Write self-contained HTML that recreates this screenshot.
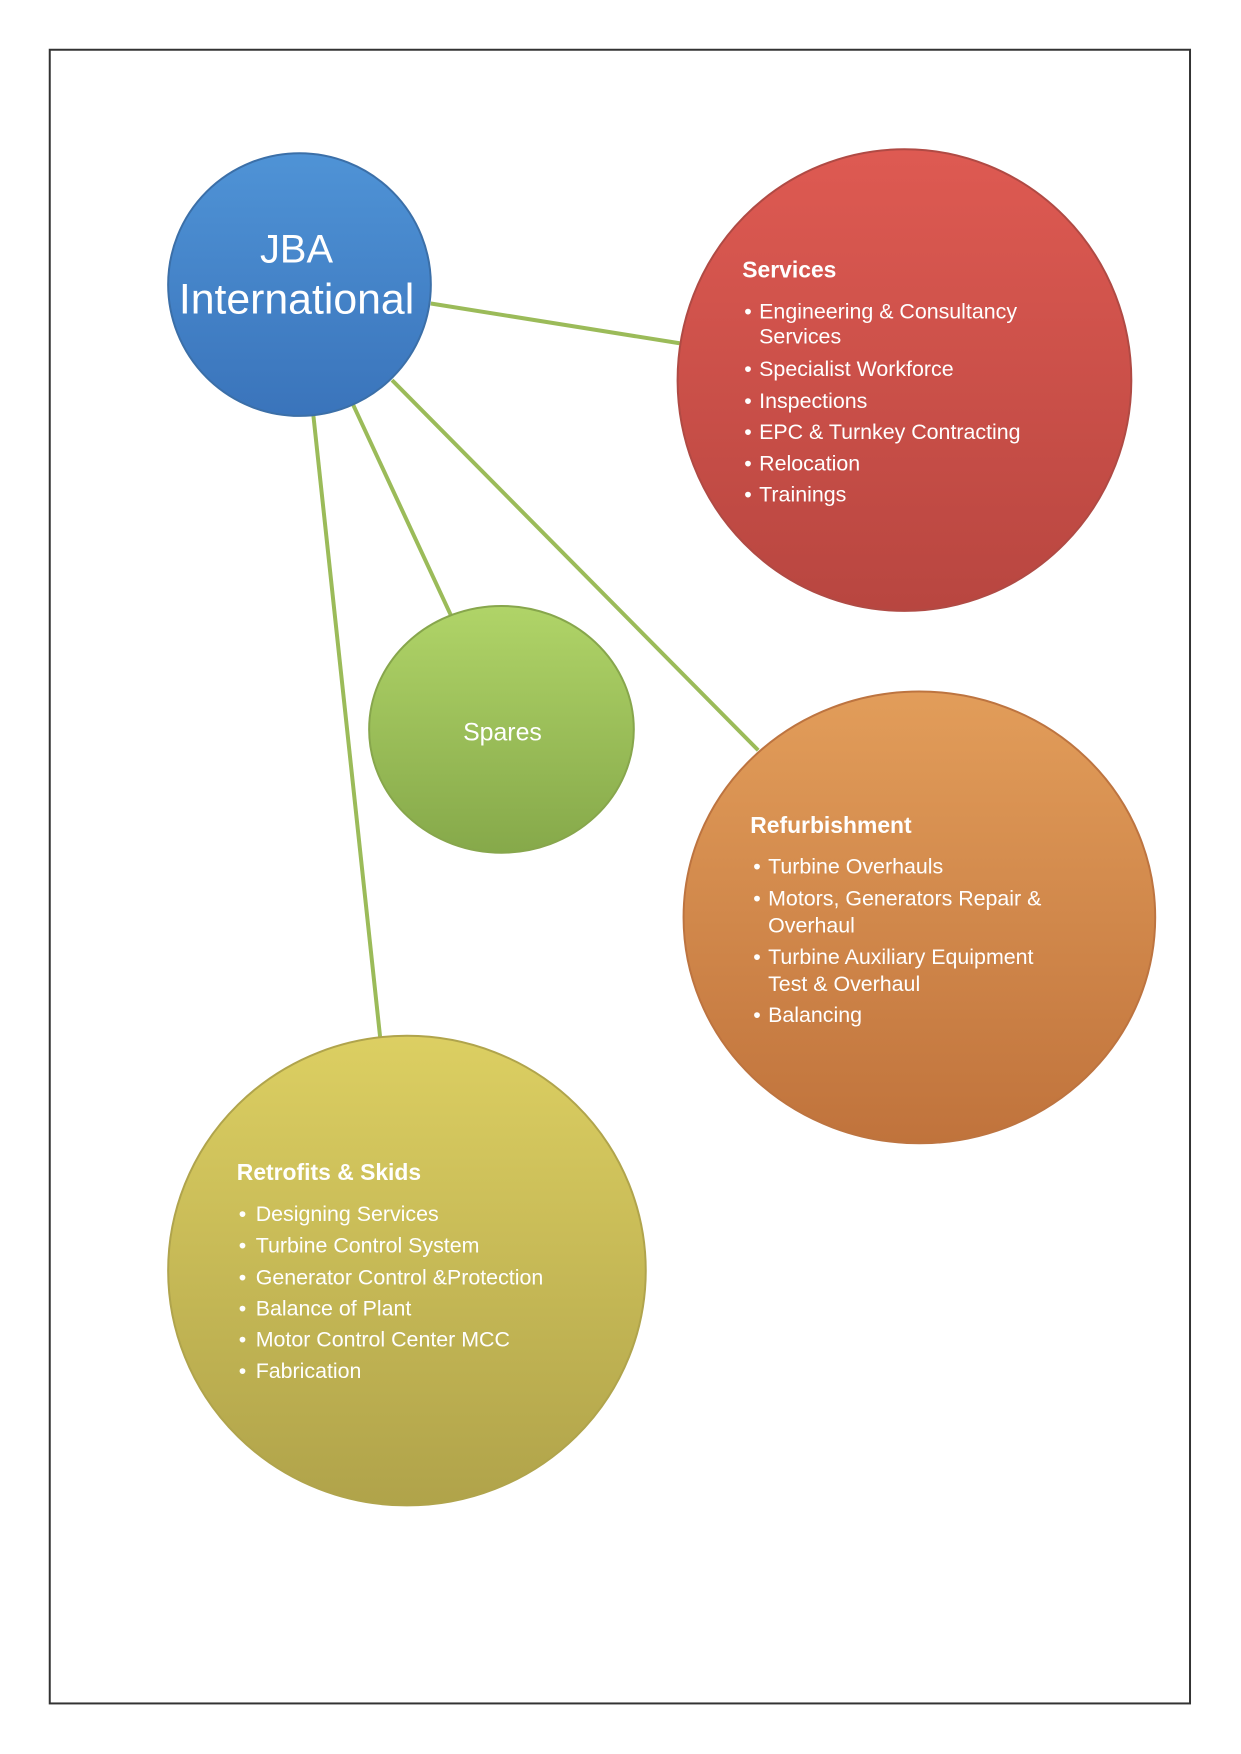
<!DOCTYPE html>
<html><head><meta charset="utf-8"><style>
html,body{margin:0;padding:0;background:#fff;}
svg{display:block;font-family:"Liberation Sans",sans-serif;}
</style></head><body>
<svg width="1241" height="1754" viewBox="0 0 1241 1754" xmlns="http://www.w3.org/2000/svg">
<defs>
<linearGradient id="gb" x1="0" y1="0" x2="0" y2="1"><stop offset="0" stop-color="#4f93d6"/><stop offset="1" stop-color="#3a74bb"/></linearGradient>
<linearGradient id="gr" x1="0" y1="0" x2="0" y2="1"><stop offset="0" stop-color="#de5a52"/><stop offset="1" stop-color="#b84640"/></linearGradient>
<linearGradient id="gg" x1="0" y1="0" x2="0" y2="1"><stop offset="0" stop-color="#b0d468"/><stop offset="1" stop-color="#86a94a"/></linearGradient>
<linearGradient id="go" x1="0" y1="0" x2="0" y2="1"><stop offset="0" stop-color="#e29d5a"/><stop offset="1" stop-color="#c0733c"/></linearGradient>
<linearGradient id="gy" x1="0" y1="0" x2="0" y2="1"><stop offset="0" stop-color="#dccf62"/><stop offset="1" stop-color="#b0a34a"/></linearGradient>
</defs>
<g transform="scale(0.995)">
<rect x="50" y="50" width="1146" height="1662" fill="none" stroke="#333" stroke-width="2"/>
<g stroke="#9bbb59" stroke-width="4">
<line x1="433" y1="305" x2="683" y2="345"/>
<line x1="394" y1="382" x2="762" y2="754"/>
<line x1="355" y1="407" x2="453" y2="618"/>
<line x1="315" y1="418" x2="382" y2="1042"/>
</g>
<g stroke-width="2">
<ellipse cx="301" cy="286" rx="132" ry="132" fill="url(#gb)" stroke="#3b6fa8"/>
<ellipse cx="909" cy="382" rx="228" ry="232" fill="url(#gr)" stroke="#b04a44"/>
<ellipse cx="504" cy="733" rx="133" ry="124" fill="url(#gg)" stroke="#87a64c"/>
<ellipse cx="924" cy="922" rx="237" ry="227" fill="url(#go)" stroke="#bd7440"/>
<ellipse cx="409" cy="1277" rx="240" ry="236" fill="url(#gy)" stroke="#b0a44c"/>
</g>
<g fill="#fff" dominant-baseline="central">
<text x="298" y="251" font-size="40" text-anchor="middle">JBA</text>
<text x="298" y="301" font-size="43" text-anchor="middle">International</text>
<text x="505" y="736" font-size="25" text-anchor="middle">Spares</text>

<text x="746" y="271" font-size="23" font-weight="bold">Services</text>
<g font-size="21.5">
<text x="748" y="313">•</text><text x="763" y="313">Engineering &amp; Consultancy</text>
<text x="763" y="338">Services</text>
<text x="748" y="371">•</text><text x="763" y="371">Specialist Workforce</text>
<text x="748" y="403">•</text><text x="763" y="403">Inspections</text>
<text x="748" y="434">•</text><text x="763" y="434">EPC &amp; Turnkey Contracting</text>
<text x="748" y="466">•</text><text x="763" y="466">Relocation</text>
<text x="748" y="497">•</text><text x="763" y="497">Trainings</text>
</g>

<text x="754" y="829" font-size="23" font-weight="bold">Refurbishment</text>
<g font-size="21.5">
<text x="757" y="871">•</text><text x="772" y="871">Turbine Overhauls</text>
<text x="757" y="903">•</text><text x="772" y="903">Motors, Generators Repair &amp;</text>
<text x="772" y="930">Overhaul</text>
<text x="757" y="962">•</text><text x="772" y="962">Turbine Auxiliary Equipment</text>
<text x="772" y="989">Test &amp; Overhaul</text>
<text x="757" y="1020">•</text><text x="772" y="1020">Balancing</text>
</g>

<text x="238" y="1178" font-size="23" font-weight="bold">Retrofits &amp; Skids</text>
<g font-size="21.5">
<text x="240" y="1220">•</text><text x="257" y="1220">Designing Services</text>
<text x="240" y="1252">•</text><text x="257" y="1252">Turbine Control System</text>
<text x="240" y="1284">•</text><text x="257" y="1284">Generator Control &amp;Protection</text>
<text x="240" y="1315">•</text><text x="257" y="1315">Balance of Plant</text>
<text x="240" y="1346">•</text><text x="257" y="1346">Motor Control Center MCC</text>
<text x="240" y="1378">•</text><text x="257" y="1378">Fabrication</text>
</g>
</g>
</g>
</svg>
</body></html>
